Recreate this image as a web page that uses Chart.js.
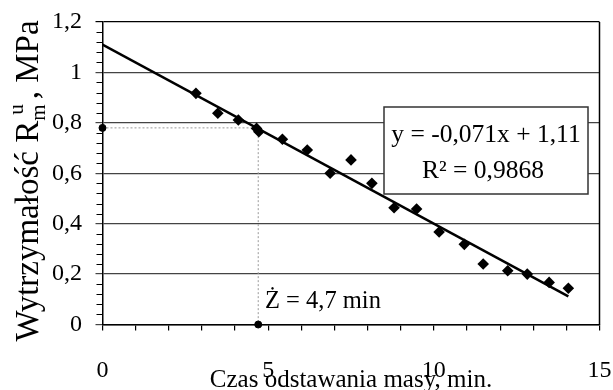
<!DOCTYPE html>
<html><head><meta charset="utf-8">
<script src="https://cdn.jsdelivr.net/npm/chart.js@4/dist/chart.umd.min.js"></script>
<style>html,body{margin:0;padding:0;background:#fff}</style>
</head><body>
<canvas id="c" width="613" height="390"></canvas>
<script>
// ---- data ----
const czas = [2.82, 3.48, 4.10, 4.65, 4.72, 5.43, 6.18, 6.87, 7.50, 8.13, 8.80, 9.48, 10.16, 10.92, 11.49, 12.23, 12.82, 13.48, 14.06];
const wytrzymalosc = [0.917, 0.838, 0.811, 0.778, 0.765, 0.735, 0.692, 0.600, 0.653, 0.560, 0.463, 0.458, 0.367, 0.318, 0.240, 0.213, 0.200, 0.167, 0.144];
const trendSlope = -0.071;
const trendIntercept = 1.11;
const zTime = 4.7;      // Ż
const rAtZ = 0.78;
const xLabelValues = [0, 5, 10, 15];
const yTickLabels = ['0', '0,2', '0,4', '0,6', '0,8', '1', '1,2'];
const xTitle = 'Czas odstawania masy, min.';
const eqLine1 = 'y = -0,071x + 1,11';
const eqLine2 = 'R² = 0,9868';
const zLabel = 'Ż = 4,7 min';

const FONT = 'Liberation Serif';
const xEnd = czas[czas.length - 1];

const decor = {
  id: 'decor',
  afterDraw(chart) {
    const ctx = chart.ctx;
    const xs = chart.scales.x, ys = chart.scales.y;
    ctx.save();
    // right border
    ctx.strokeStyle = '#000'; ctx.lineWidth = 1.5;
    ctx.beginPath();
    ctx.moveTo(xs.getPixelForValue(15), ys.getPixelForValue(1.2));
    ctx.lineTo(xs.getPixelForValue(15), ys.getPixelForValue(0));
    ctx.stroke();
    // minor y ticks
    ctx.lineWidth = 1;
    const ax = xs.getPixelForValue(0);
    for (let i = 0; i <= 30; i++) {
      if (i % 5 === 0) continue;
      const py = Math.round(ys.getPixelForValue(i * 0.04)) + 0.5;
      ctx.beginPath(); ctx.moveTo(ax - 6, py); ctx.lineTo(ax, py); ctx.stroke();
    }
    // equation box
    const bx = 384, by = 107, bw = 204, bh = 87;
    ctx.fillStyle = '#fff';
    ctx.fillRect(bx, by, bw, bh);
    ctx.strokeStyle = '#333'; ctx.lineWidth = 1.5;
    ctx.strokeRect(bx, by, bw, bh);
    ctx.fillStyle = '#000';
    ctx.font = '25.5px "' + FONT + '"';
    ctx.textAlign = 'center'; ctx.textBaseline = 'alphabetic';
    ctx.fillText(eqLine1, bx + bw / 2, 142);
    ctx.fillText(eqLine2, bx + bw / 2 - 3, 178);
    // Ż label
    ctx.font = '24.5px "' + FONT + '"';
    ctx.textAlign = 'left';
    ctx.fillText(zLabel, 265, 308);
    // y title with sub/superscript
    ctx.translate(38, 181);
    ctx.rotate(-Math.PI / 2);
    const big = '33px "' + FONT + '"', small = '21px "' + FONT + '"';
    const p1 = 'Wytrzymałość R', p3 = ', MPa';
    ctx.font = big; const w1 = ctx.measureText(p1).width; const w3 = ctx.measureText(p3).width;
    ctx.font = small; const wm = ctx.measureText('m').width; const wu = ctx.measureText('u').width;
    const wsub = Math.max(wm, wu + 6);
    const total = w1 + wsub + 5 + w3;
    let x0 = -total / 2;
    ctx.textAlign = 'left';
    ctx.font = big; ctx.fillText(p1, x0, 0);
    ctx.font = small; ctx.fillText('m', x0 + w1, 7); ctx.fillText('u', x0 + w1 + 6, -15);
    ctx.font = big; ctx.fillText(p3, x0 + w1 + wsub + 5, 0);
    ctx.restore();
  }
};

new Chart(document.getElementById('c'), {
  type: 'scatter',
  data: {
    datasets: [
      { label: 'pomiary', data: czas.map((x, i) => ({ x, y: wytrzymalosc[i] })),
        pointStyle: 'rectRot', pointRadius: 5.8, backgroundColor: '#000', borderColor: '#000', borderWidth: 0, order: 0 },
      { label: 'trend', data: [{ x: 0, y: trendIntercept }, { x: xEnd, y: trendIntercept + trendSlope * xEnd }],
        showLine: true, borderColor: '#000', borderWidth: 2.5, pointRadius: 0, order: 1 },
      { label: 'guide', data: [{ x: 0, y: rAtZ }, { x: zTime, y: rAtZ }, { x: zTime, y: 0 }],
        showLine: true, borderColor: '#999', borderWidth: 1, borderDash: [2, 2], pointRadius: 0, order: 2 },
      { label: 'markers', data: [{ x: 0, y: rAtZ }, { x: zTime, y: 0 }],
        pointStyle: 'circle', pointRadius: 3.5, backgroundColor: '#000', borderColor: '#000', clip: false, order: 0 }
    ]
  },
  options: {
    responsive: false, animation: false, devicePixelRatio: 1,
    layout: { padding: { top: 22, right: 13.5, left: 0, bottom: 0 } },
    plugins: { legend: { display: false }, tooltip: { enabled: false } },
    scales: {
      x: {
        type: 'linear', min: 0, max: 15,
        afterFit(s) { s.height = 65.5; s.paddingLeft = 0; s.paddingRight = 0; },
        ticks: { stepSize: 1, autoSkip: false, maxRotation: 0, padding: 26, color: '#000',
          font: { family: FONT, size: 24 },
          callback: v => xLabelValues.includes(v) ? String(v) : '' },
        grid: { drawOnChartArea: false, drawTicks: true, tickLength: 6, color: '#000', lineWidth: 1.2 },
        border: { display: true, color: '#000', width: 1.5 },
        title: { display: true, text: xTitle, color: '#000',
          font: { family: FONT, size: 25, lineHeight: 0.75 }, padding: { top: 0, bottom: 0 } }
      },
      y: {
        type: 'linear', min: 0, max: 1.2,
        afterFit(s) { s.width = 102.5; s.paddingTop = 0; s.paddingBottom = 0; },
        ticks: { stepSize: 0.2, padding: 13.5, color: '#000', font: { family: FONT, size: 24 },
          callback: (v, i) => yTickLabels[i] },
        grid: { color: c => (c.tick && Math.abs(c.tick.value - 1.2) < 1e-6) ? '#000' : '#444',
          lineWidth: 1.2, tickLength: 7, drawTicks: true },
        border: { display: true, color: '#000', width: 1.5 }
      }
    }
  },
  plugins: [decor]
});
</script>
</body></html>
